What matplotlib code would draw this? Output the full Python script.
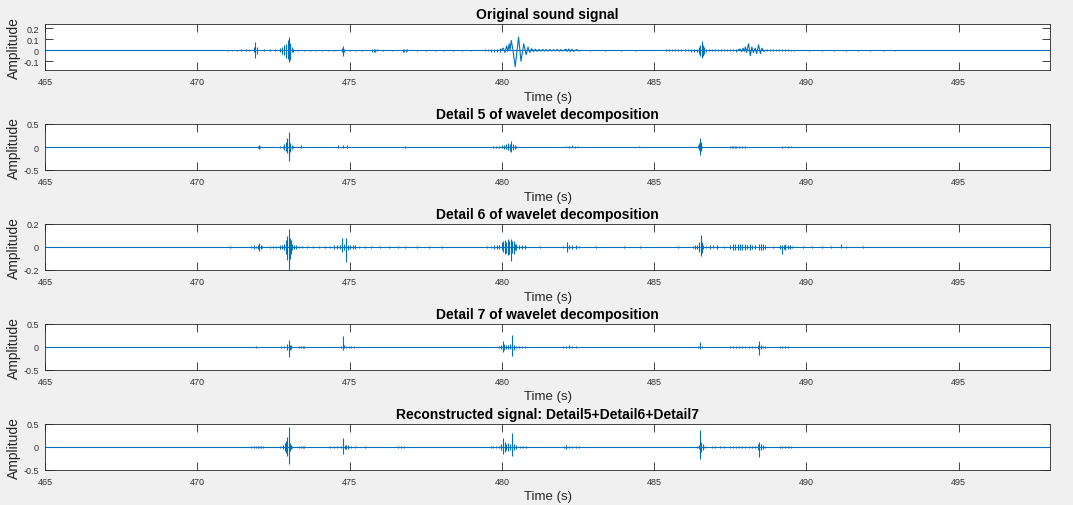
import matplotlib
matplotlib.use("Agg")
import matplotlib.pyplot as plt

plt.rcParams["font.family"] = ["Liberation Sans", "DejaVu Sans"]

# ── data (time in s, amplitude) ─────────────────────────────────────────────

titles = [
    "Original sound signal",
    "Detail 5 of wavelet decomposition",
    "Detail 6 of wavelet decomposition",
    "Detail 7 of wavelet decomposition",
    "Reconstructed signal: Detail5+Detail6+Detail7",
]
x_ticks = [465, 470, 475, 480, 485, 490, 495]
x_range = (465, 498)
y_ranges = [(-0.18, 0.24), (-0.5, 0.5), (-0.2, 0.2), (-0.5, 0.5), (-0.5, 0.5)]
y_ticks = [[-0.1, 0, 0.1, 0.2], [-0.5, 0, 0.5], [-0.2, 0, 0.2], [-0.5, 0, 0.5], [-0.5, 0, 0.5]]
y_ticklabels = [["-0.1", "0", "0.1", "0.2"], ["-0.5", "0", "0.5"], ["-0.2", "0", "0.2"],
                ["-0.5", "0", "0.5"], ["-0.5", "0", "0.5"]]

# original signal: short bursts / noise as (time, top, bottom)
orig_t = [471.0, 471.15, 471.3, 471.45, 471.6, 471.7, 471.85, 471.91, 471.95,
          472.2, 472.4, 472.55, 472.7, 472.78, 472.85, 472.92, 472.97, 473.0, 473.03,
          473.06, 473.1, 473.15, 473.3, 473.5, 473.7, 473.9, 474.1, 474.3, 474.5,
          474.74, 474.78, 474.82, 475.0, 475.2, 475.4, 475.75, 475.8, 475.85, 475.9,
          476.1, 476.4, 476.75, 476.8, 476.85, 476.9, 477.2, 477.5, 477.8, 478.1,
          478.4, 478.7, 479.0, 479.45, 479.55, 479.65, 479.75, 479.85, 479.95,
          482.9, 483.4, 483.9, 484.4,
          485.4, 485.5, 485.6, 485.7, 485.8, 485.9, 486.0, 486.1, 486.2, 486.3, 486.4,
          486.48, 486.52, 486.56, 486.6, 486.64, 486.7,
          486.8, 486.9, 487.0, 487.1, 487.2, 487.3, 487.4, 487.5, 487.6, 487.7,
          488.7, 488.8, 488.9, 489.0, 489.1, 489.2, 489.3, 489.4, 489.5, 489.6,
          490.1, 490.5, 490.9, 491.3, 491.7, 492.1, 492.5, 492.9]
orig_hi = [0.006, 0.006, 0.006, 0.008, 0.008, 0.01, 0.03, 0.08, 0.03,
           0.008, 0.01, 0.01, 0.02, 0.03, 0.05, 0.06, 0.09, 0.12, 0.07,
           0.04, 0.03, 0.015, 0.006, 0.005, 0.006, 0.005, 0.005, 0.006, 0.006,
           0.02, 0.04, 0.015, 0.006, 0.006, 0.005, 0.012, 0.012, 0.012, 0.01,
           0.005, 0.006, 0.012, 0.012, 0.012, 0.01, 0.005, 0.006, 0.005, 0.005,
           0.005, 0.006, 0.004, 0.01, 0.01, 0.012, 0.012, 0.015, 0.02,
           0.004, 0.004, 0.004, 0.004,
           0.008, 0.008, 0.008, 0.008, 0.01, 0.01, 0.01, 0.01, 0.012, 0.012, 0.015,
           0.03, 0.05, 0.085, 0.05, 0.03, 0.015,
           0.008, 0.008, 0.008, 0.008, 0.008, 0.008, 0.008, 0.01, 0.01, 0.012,
           0.008, 0.008, 0.008, 0.008, 0.008, 0.008, 0.008, 0.008, 0.006, 0.005,
           0.004, 0.004, 0.004, 0.004, 0.004, 0.004, 0.004, 0.004]
orig_lo = [-0.006, -0.006, -0.006, -0.008, -0.008, -0.01, -0.02, -0.07, -0.03,
           -0.008, -0.01, -0.01, -0.02, -0.03, -0.04, -0.07, -0.08, -0.11, -0.09,
           -0.05, -0.02, -0.015, -0.006, -0.005, -0.006, -0.005, -0.005, -0.006, -0.006,
           -0.02, -0.05, -0.02, -0.006, -0.006, -0.005, -0.012, -0.012, -0.012, -0.01,
           -0.005, -0.006, -0.012, -0.012, -0.012, -0.01, -0.005, -0.006, -0.005, -0.005,
           -0.005, -0.006, -0.004, -0.01, -0.01, -0.012, -0.012, -0.015, -0.02,
           -0.004, -0.004, -0.004, -0.004,
           -0.008, -0.008, -0.008, -0.008, -0.01, -0.01, -0.01, -0.01, -0.012, -0.012, -0.015,
           -0.03, -0.05, -0.067, -0.05, -0.03, -0.015,
           -0.008, -0.008, -0.008, -0.008, -0.008, -0.008, -0.008, -0.01, -0.01, -0.012,
           -0.008, -0.008, -0.008, -0.008, -0.008, -0.008, -0.008, -0.008, -0.006, -0.005,
           -0.004, -0.004, -0.004, -0.004, -0.004, -0.004, -0.004, -0.004]

# original signal: the two slow oscillating events, as traced points
wave1_t = [479.98, 480.05, 480.1, 480.16, 480.2, 480.24, 480.27, 480.31, 480.35, 480.44,
           480.55, 480.63, 480.72, 480.8, 480.86, 480.92, 480.98, 481.04, 481.1, 481.16,
           481.22, 481.28, 481.34, 481.4, 481.46, 481.52, 481.58, 481.64, 481.7, 481.76,
           481.82, 481.88, 481.94, 482.0, 482.1, 482.15, 482.2, 482.25, 482.3, 482.35,
           482.45, 482.55, 482.6]
wave1_y = [0, 0.02, -0.02, 0.04, -0.01, 0.06, 0.0, 0.09, 0.03, -0.15,
           0.12, -0.1, 0.06, -0.04, 0.03, -0.02, 0.015, -0.012, 0.01, -0.01,
           0.008, -0.008, 0.008, -0.008, 0.007, -0.007, 0.007, -0.007, 0.006, -0.006,
           0.008, -0.008, 0.006, -0.006, 0.01, -0.01, 0.012, -0.012, 0.01, -0.01,
           0.006, -0.006, 0]
wave2_t = [487.75, 487.82, 487.87, 487.92, 487.96, 488.0, 488.04, 488.1, 488.16, 488.21,
           488.26, 488.32, 488.37, 488.43, 488.49, 488.54, 488.6, 488.66]
wave2_y = [0, 0.012, -0.012, 0.02, -0.01, 0.03, -0.02, 0.06, -0.05, 0.03,
           -0.02, 0.02, -0.03, 0.05, -0.03, 0.02, -0.01, 0]

d5_t = [471.06, 471.98, 472.02, 472.06,
        472.72, 472.8, 472.86, 472.92, 472.96, 473.0, 473.02, 473.06, 473.1, 473.15,
        473.39, 474.61, 474.78, 474.92, 475.05, 475.72, 476.83, 478.03,
        479.64, 479.72, 479.81, 479.92, 480.0, 480.08, 480.15, 480.2, 480.26, 480.31,
        480.36, 480.42, 480.48,
        480.7, 481.42, 482.1, 482.2, 482.3, 482.4, 482.5, 484.5,
        486.44, 486.48, 486.51, 486.54, 486.58, 486.9,
        487.5, 487.55, 487.6, 487.65, 487.7, 487.8, 487.9, 488.0,
        489.2, 489.3, 489.4, 489.5, 492.5, 495.0, 497.5]
d5_hi = [0.01, 0.02, 0.04, 0.03,
         0.02, 0.03, 0.06, 0.1, 0.19, 0.33, 0.15, 0.08, 0.04, 0.02,
         0.04, 0.04, 0.04, 0.05, 0.01, 0.01, 0.02, 0.01,
         0.01, 0.015, 0.015, 0.03, 0.04, 0.05, 0.06, 0.08, 0.06, 0.13,
         0.06, 0.05, 0.02,
         0.01, 0.01, 0.03, 0.02, 0.04, 0.02, 0.02, 0.02,
         0.04, 0.08, 0.19, 0.1, 0.03, 0.01,
         0.03, 0.03, 0.03, 0.03, 0.03, 0.02, 0.03, 0.02,
         0.02, 0.03, 0.02, 0.02, 0.01, 0.01, 0.01]
d5_lo = [-0.01, -0.02, -0.04, -0.03,
         -0.02, -0.03, -0.06, -0.08, -0.12, -0.2, -0.31, -0.1, -0.04, -0.02,
         -0.02, -0.02, -0.03, -0.03, -0.01, -0.01, -0.02, -0.01,
         -0.01, -0.015, -0.015, -0.03, -0.03, -0.04, -0.05, -0.06, -0.08, -0.1,
         -0.06, -0.05, -0.02,
         -0.01, -0.01, -0.01, -0.02, -0.01, -0.02, -0.01, -0.01,
         -0.03, -0.06, -0.18, -0.08, -0.03, -0.01,
         -0.03, -0.03, -0.03, -0.03, -0.03, -0.02, -0.03, -0.02,
         -0.02, -0.01, -0.02, -0.01, -0.01, -0.01, -0.01]

d6_t = [466.67, 467.61, 471.06, 471.2, 471.78, 471.85, 471.92, 471.98, 472.03, 472.08, 472.13,
        472.39, 472.5, 472.6, 472.7, 472.78, 472.85, 472.9, 472.95, 473.0, 473.03, 473.07,
        473.12, 473.17, 473.25, 473.35, 473.45, 473.6, 473.8, 474.0, 474.2, 474.35, 474.5,
        474.6, 474.7, 474.76, 474.82, 474.88, 474.94, 475.0, 475.1, 475.17, 475.3, 475.5,
        475.72, 476.0, 476.3, 476.6, 476.83, 477.2, 477.6, 478.03, 478.5, 479.0,
        479.5, 479.65, 479.75, 479.85, 479.92, 480.0, 480.05, 480.09, 480.14, 480.2, 480.25,
        480.31, 480.35, 480.39, 480.44, 480.48, 480.55, 480.65, 480.75,
        481.26, 481.6, 482.0, 482.13, 482.2, 482.3, 482.42, 482.55,
        483.1, 484.0, 484.55, 485.2, 485.8, 486.28, 486.35, 486.42, 486.48, 486.53, 486.57,
        486.62, 486.7, 486.84, 486.95, 487.07, 487.3,
        487.5, 487.58, 487.66, 487.74, 487.82, 487.9, 487.98, 488.06, 488.14, 488.22, 488.3,
        488.46, 488.52, 488.58, 488.63,
        488.9, 489.13, 489.19, 489.25, 489.3, 489.4, 489.46, 489.52,
        489.9, 490.2, 490.5, 490.8, 491.15, 491.3, 491.6, 491.87, 492.5, 493.2, 494.0,
        495.0, 495.9, 496.8, 497.6]
d6_hi = [0.003, 0.003, 0.005, 0.003, 0.01, 0.015, 0.01, 0.02, 0.033, 0.02, 0.01,
         0.005, 0.008, 0.01, 0.015, 0.02, 0.03, 0.06, 0.095, 0.155, 0.08, 0.06,
         0.03, 0.02, 0.015, 0.01, 0.01, 0.008, 0.006, 0.008, 0.008, 0.01, 0.015,
         0.02, 0.02, 0.08, 0.03, 0.08, 0.02, 0.015, 0.015, 0.02, 0.008, 0.006,
         0.006, 0.006, 0.005, 0.006, 0.01, 0.005, 0.008, 0.008, 0.004, 0.004,
         0.01, 0.01, 0.015, 0.015, 0.02, 0.04, 0.05, 0.06, 0.04, 0.07, 0.05,
         0.07, 0.05, 0.05, 0.03, 0.03, 0.02, 0.02, 0.015,
         0.005, 0.004, 0.01, 0.04, 0.02, 0.02, 0.015, 0.01,
         0.005, 0.005, 0.005, 0.004, 0.006, 0.01, 0.015, 0.02, 0.04, 0.104, 0.04,
         0.02, 0.01, 0.015, 0.02, 0.015, 0.008,
         0.02, 0.025, 0.03, 0.025, 0.03, 0.025, 0.03, 0.02, 0.025, 0.02, 0.015,
         0.03, 0.03, 0.03, 0.02,
         0.005, 0.015, 0.02, 0.02, 0.03, 0.015, 0.02, 0.01,
         0.006, 0.006, 0.005, 0.006, 0.03, 0.006, 0.004, 0.005, 0.004, 0.004, 0.004,
         0.004, 0.004, 0.004, 0.004]
d6_lo = [-0.003, -0.003, -0.005, -0.003, -0.01, -0.015, -0.01, -0.015, -0.033, -0.02, -0.01,
         -0.005, -0.008, -0.01, -0.015, -0.02, -0.03, -0.06, -0.113, -0.197, -0.1, -0.06,
         -0.03, -0.02, -0.015, -0.01, -0.01, -0.008, -0.006, -0.008, -0.008, -0.01, -0.015,
         -0.02, -0.02, -0.04, -0.03, -0.13, -0.03, -0.015, -0.015, -0.02, -0.008, -0.006,
         -0.006, -0.006, -0.005, -0.006, -0.01, -0.005, -0.008, -0.008, -0.004, -0.004,
         -0.01, -0.01, -0.015, -0.015, -0.02, -0.03, -0.04, -0.06, -0.05, -0.07, -0.06,
         -0.12, -0.05, -0.06, -0.03, -0.03, -0.02, -0.02, -0.015,
         -0.005, -0.004, -0.01, -0.04, -0.02, -0.015, -0.015, -0.01,
         -0.005, -0.005, -0.005, -0.004, -0.006, -0.01, -0.015, -0.02, -0.04, -0.08, -0.05,
         -0.02, -0.01, -0.015, -0.01, -0.015, -0.008,
         -0.02, -0.025, -0.03, -0.025, -0.03, -0.025, -0.03, -0.02, -0.025, -0.02, -0.015,
         -0.03, -0.03, -0.03, -0.02,
         -0.005, -0.015, -0.06, -0.02, -0.03, -0.015, -0.02, -0.01,
         -0.006, -0.006, -0.005, -0.006, -0.01, -0.006, -0.004, -0.005, -0.004, -0.004, -0.004,
         -0.004, -0.004, -0.004, -0.004]

d7_t = [470.94, 471.78, 471.85, 471.92, 472.0, 472.08,
        472.75, 472.85, 472.93, 473.0, 473.04, 473.08, 473.33, 473.4, 473.46, 473.5,
        474.2, 474.35, 474.5, 474.6, 474.72, 474.78, 474.83, 474.9, 474.97, 475.05, 475.15,
        475.5, 475.6, 476.72, 478.03, 479.64, 479.92, 479.98, 480.03, 480.08, 480.13,
        480.2, 480.27, 480.34, 480.39, 480.45, 480.55, 480.65, 480.75,
        481.42, 482.0, 482.1, 482.2, 482.3, 482.42, 482.55, 482.77,
        485.39, 486.1, 486.45, 486.51, 486.56,
        486.9, 487.0, 487.15, 487.3, 487.5, 487.6, 487.7, 487.8, 487.9, 488.0, 488.1,
        488.2, 488.3, 488.4, 488.46, 488.52, 488.58, 488.63,
        489.13, 489.2, 489.3, 489.4, 489.5, 490.2, 491.6, 491.9, 494.4, 495.6]
d7_hi = [0.005, 0.01, 0.01, 0.012, 0.01, 0.01,
         0.02, 0.03, 0.06, 0.16, 0.05, 0.04, 0.03, 0.03, 0.03, 0.02,
         0.01, 0.01, 0.01, 0.01, 0.03, 0.24, 0.05, 0.03, 0.03, 0.02, 0.015,
         0.01, 0.01, 0.008, 0.008, 0.008, 0.02, 0.05, 0.14, 0.06, 0.05,
         0.05, 0.06, 0.26, 0.05, 0.03, 0.02, 0.02, 0.02,
         0.008, 0.02, 0.02, 0.04, 0.03, 0.02, 0.01, 0.008,
         0.008, 0.008, 0.03, 0.1, 0.03,
         0.01, 0.01, 0.01, 0.01, 0.02, 0.02, 0.02, 0.02, 0.02, 0.02, 0.025,
         0.02, 0.02, 0.04, 0.12, 0.05, 0.03, 0.02,
         0.015, 0.02, 0.02, 0.015, 0.01, 0.008, 0.006, 0.006, 0.005, 0.005]
d7_lo = [-0.005, -0.01, -0.01, -0.012, -0.01, -0.01,
         -0.02, -0.03, -0.06, -0.22, -0.06, -0.04, -0.03, -0.03, -0.03, -0.02,
         -0.01, -0.01, -0.01, -0.01, -0.03, -0.06, -0.03, -0.03, -0.03, -0.02, -0.015,
         -0.01, -0.01, -0.008, -0.008, -0.008, -0.02, -0.04, -0.1, -0.06, -0.04,
         -0.05, -0.04, -0.2, -0.06, -0.03, -0.02, -0.02, -0.02,
         -0.008, -0.02, -0.02, -0.02, -0.03, -0.02, -0.01, -0.008,
         -0.008, -0.008, -0.03, -0.05, -0.03,
         -0.01, -0.01, -0.01, -0.01, -0.02, -0.02, -0.02, -0.02, -0.02, -0.02, -0.025,
         -0.02, -0.02, -0.04, -0.18, -0.05, -0.03, -0.02,
         -0.015, -0.02, -0.02, -0.015, -0.01, -0.008, -0.006, -0.006, -0.005, -0.005]

rec_t = [469.56, 470.5, 471.06,
         471.78, 471.85, 471.92, 471.98, 472.04, 472.1, 472.17,
         472.72, 472.8, 472.87, 472.92, 472.96, 473.0, 473.04, 473.08, 473.12,
         473.33, 473.4, 473.46, 473.5,
         473.83, 474.2, 474.35, 474.5, 474.6, 474.72, 474.78, 474.84, 474.9, 474.96, 475.05,
         475.17, 475.5, 475.6, 476.6, 476.7, 476.8, 477.4, 478.03,
         479.64, 479.72, 479.8, 479.9, 479.98, 480.03, 480.09, 480.15, 480.2, 480.27, 480.34,
         480.4, 480.48, 480.6, 480.7, 480.8,
         481.37, 482.04, 482.12, 482.2, 482.3, 482.42, 482.54,
         484.5, 485.33, 486.05, 486.4, 486.46, 486.51, 486.55, 486.6, 486.66,
         486.9, 487.0, 487.15, 487.3, 487.5, 487.6, 487.7, 487.8, 487.9, 488.0, 488.1,
         488.2, 488.3, 488.4, 488.46, 488.52, 488.58, 488.63,
         489.13, 489.2, 489.3, 489.4, 489.5,
         490.05, 491.05, 491.6, 492.55, 493.7, 494.3, 494.85, 495.5]
rec_hi = [0.008, 0.008, 0.008,
          0.015, 0.02, 0.02, 0.025, 0.03, 0.02, 0.015,
          0.03, 0.05, 0.08, 0.12, 0.22, 0.44, 0.08, 0.05, 0.03,
          0.03, 0.03, 0.03, 0.02,
          0.01, 0.01, 0.015, 0.015, 0.015, 0.03, 0.2, 0.05, 0.05, 0.04, 0.02,
          0.02, 0.015, 0.01, 0.02, 0.02, 0.015, 0.008, 0.008,
          0.02, 0.02, 0.02, 0.02, 0.06, 0.2, 0.1, 0.06, 0.08, 0.06, 0.3,
          0.06, 0.04, 0.02, 0.03, 0.02,
          0.01, 0.02, 0.05, 0.03, 0.03, 0.02, 0.02,
          0.008, 0.008, 0.01, 0.02, 0.05, 0.38, 0.1, 0.06, 0.02,
          0.02, 0.02, 0.015, 0.015, 0.03, 0.03, 0.03, 0.03, 0.03, 0.03, 0.03,
          0.03, 0.02, 0.06, 0.11, 0.06, 0.04, 0.02,
          0.02, 0.03, 0.03, 0.02, 0.015,
          0.008, 0.008, 0.008, 0.008, 0.008, 0.008, 0.008, 0.008]
rec_lo = [-0.008, -0.008, -0.008,
          -0.015, -0.02, -0.02, -0.025, -0.03, -0.02, -0.015,
          -0.03, -0.05, -0.08, -0.12, -0.2, -0.36, -0.08, -0.05, -0.03,
          -0.03, -0.03, -0.03, -0.02,
          -0.01, -0.01, -0.015, -0.015, -0.015, -0.03, -0.15, -0.05, -0.04, -0.04, -0.02,
          -0.02, -0.015, -0.01, -0.02, -0.02, -0.015, -0.008, -0.008,
          -0.02, -0.02, -0.02, -0.02, -0.06, -0.15, -0.1, -0.06, -0.08, -0.06, -0.2,
          -0.06, -0.04, -0.02, -0.03, -0.02,
          -0.01, -0.02, -0.05, -0.03, -0.03, -0.02, -0.02,
          -0.008, -0.008, -0.01, -0.02, -0.05, -0.27, -0.1, -0.06, -0.02,
          -0.02, -0.02, -0.015, -0.015, -0.03, -0.03, -0.03, -0.03, -0.03, -0.03, -0.03,
          -0.03, -0.02, -0.06, -0.22, -0.06, -0.04, -0.02,
          -0.02, -0.03, -0.03, -0.02, -0.015,
          -0.008, -0.008, -0.008, -0.008, -0.008, -0.008, -0.008, -0.008]

spikes = [(orig_t, orig_hi, orig_lo), (d5_t, d5_hi, d5_lo), (d6_t, d6_hi, d6_lo),
          (d7_t, d7_hi, d7_lo), (rec_t, rec_hi, rec_lo)]

# ── figure ───────────────────────────────────────────────────────────────────

LINE = "#0072BD"
AXC = "#262626"
W, H = 1073, 506
AX_L, AX_W, AX_H = 45, 1005, 46   # pixels

fig = plt.figure(figsize=(W / 100, H / 100), dpi=100, facecolor="#f0f0f0")

for i in range(5):
    top_px = 25 + 100 * i
    ax = fig.add_axes([AX_L / W, 1 - (top_px + AX_H) / H, AX_W / W, AX_H / H])
    ax.set_facecolor("white")

    ax.axhline(0, color=LINE, lw=0.8, zorder=2)
    t, hi, lo = spikes[i]
    ax.vlines(t, lo, hi, color=LINE, lw=0.8, zorder=3)
    if i == 0:
        ax.plot(wave1_t, wave1_y, color=LINE, lw=0.8, zorder=3)
        ax.plot(wave2_t, wave2_y, color=LINE, lw=0.8, zorder=3)

    ax.set_xlim(*x_range)
    ax.set_ylim(*y_ranges[i])
    ax.set_xticks(x_ticks)
    ax.set_yticks(y_ticks[i])
    ax.set_yticklabels(y_ticklabels[i])

    ax.tick_params(direction="in", length=5.5, width=0.6, color=AXC,
                   top=True, right=True, labelsize=6.5, labelcolor="#333333")
    ax.tick_params(axis="x", pad=5)
    ax.tick_params(axis="y", pad=4.5)
    for sp in ax.spines.values():
        sp.set_color(AXC)
        sp.set_linewidth(0.6)

    ax.set_title(titles[i], fontsize=10, fontweight="bold", pad=4, color="black")
    ax.set_xlabel("Time (s)", fontsize=9.5, color="#262626")
    ax.set_ylabel("Amplitude", fontsize=10, color="#262626")
    # label placement in axes fractions (MATLAB-like spacing)
    ax.xaxis.set_label_coords(0.5, -(91.5 - 71) / AX_H)
    ax.yaxis.set_label_coords(-(45 - 21) / AX_W, 0.5)

fig.savefig("out.png", dpi=100, facecolor=fig.get_facecolor())
